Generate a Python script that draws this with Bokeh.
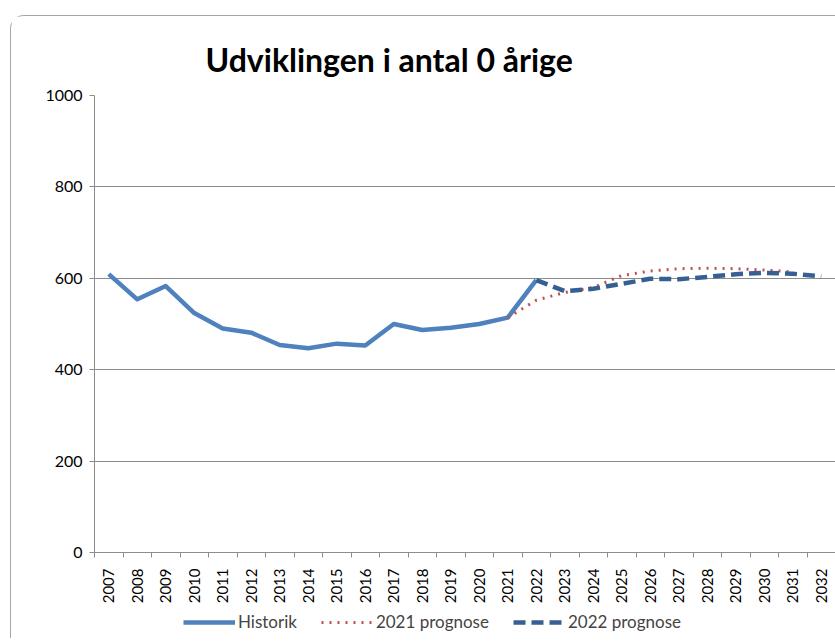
import numpy as np
from bokeh.plotting import figure
from bokeh.layouts import column
from bokeh.models import Range1d, FixedTicker, Legend, LegendItem, Title
from bokeh.embed import file_html
from bokeh.resources import INLINE

title_text = "Udviklingen i antal 0 årige"
years_hist = list(range(2007, 2023))
historik = [609, 554, 583, 524, 490, 481, 454, 447, 457, 453, 500, 487, 492, 500, 514, 596]
years_p21 = list(range(2021, 2032))
prog_2021 = [514, 552, 569, 580, 606, 616, 621, 622, 621, 618, 614]
years_p22 = list(range(2022, 2033))
prog_2022 = [596, 572, 577, 588, 599, 598, 603, 609, 612, 610, 604]
all_years = list(range(2007, 2033))
y_ticks = [0, 200, 400, 600, 800, 1000]
series_names = ["Historik", "2021 prognose", "2022 prognose"]

FONT = "Lato"
GRID = "#8c8c8c"
C_HIST, C_21, C_22 = "#4F81BD", "#C0504D", "#376092"

p = figure(width=824, height=590, output_backend="svg", toolbar_location=None,
           x_range=Range1d(2006.5, 2032.5), y_range=Range1d(0, 1000),
           min_border_left=83, min_border_top=79, min_border_bottom=53, min_border_right=0,
           outline_line_color=None)

p.title = Title(text=title_text, align="left", offset=111, text_font=FONT,
                text_font_size="32px", text_font_style="bold", text_color="black", standoff=33)

p.xaxis.ticker = FixedTicker(ticks=all_years, minor_ticks=[y - 0.5 for y in all_years] + [2032.5])
p.xaxis.major_label_overrides = {y: str(y) for y in all_years}
p.xaxis.major_label_orientation = np.pi / 2
p.xaxis.major_tick_out = 0
p.xaxis.major_tick_in = 0
p.xaxis.minor_tick_out = 5
p.xaxis.minor_tick_in = 0
p.xaxis.major_label_standoff = 11
p.yaxis.ticker = FixedTicker(ticks=y_ticks)
p.yaxis.major_tick_out = 5
p.yaxis.major_tick_in = 0
p.yaxis.minor_tick_out = 0
p.yaxis.minor_tick_in = 0
p.yaxis.major_label_standoff = 7
for ax in (p.xaxis, p.yaxis):
    ax.axis_line_color = GRID
    ax.major_tick_line_color = GRID
    ax.minor_tick_line_color = GRID
    ax.major_label_text_font = FONT
    ax.major_label_text_color = "black"
p.xaxis.major_label_text_font_size = "15px"
p.yaxis.major_label_text_font_size = "16px"

p.xgrid.grid_line_color = None
p.ygrid.grid_line_color = GRID
p.ygrid.grid_line_width = 1

styles = [dict(line_color=C_HIST, line_width=4.5, line_join="round"),
          dict(line_color=C_21, line_width=3, line_dash="2 6"),
          dict(line_color=C_22, line_width=4.5, line_dash="12 6")]
series = [(years_hist, historik), (years_p21, prog_2021), (years_p22, prog_2022)]

for (xs, ys), s in zip(series, styles):
    p.line(xs, ys, **s)

# legend strip below the chart (its lines reuse the series but lie outside its view)
p2 = figure(width=824, height=32, output_backend="svg", toolbar_location=None,
            x_range=Range1d(0, 1), y_range=Range1d(0, 1),
            x_axis_location=None, y_axis_location=None,
            min_border_left=83, min_border_right=0, min_border_top=0, min_border_bottom=0,
            outline_line_color=None)
p2.xgrid.visible = False
p2.ygrid.visible = False
leg_r = [p2.line(xs, ys, **s) for (xs, ys), s in zip(series, styles)]
legend = Legend(items=[LegendItem(label=n, renderers=[r]) for n, r in zip(series_names, leg_r)],
                orientation="horizontal", location=(89, 6), padding=0, margin=0,
                border_line_color=None, background_fill_alpha=0,
                label_text_font=FONT, label_text_font_size="17px",
                glyph_width=52, glyph_height=20, label_standoff=3, spacing=24)
p2.add_layout(legend)

layout = column(p, p2, spacing=0)
layout.styles = {"margin-left": "10px", "margin-top": "15px",
                 "border-left": "1px solid #a6a6a6", "border-top": "1px solid #a6a6a6",
                 "border-top-left-radius": "14px"}

open("out.html", "w").write(file_html(layout, INLINE))
